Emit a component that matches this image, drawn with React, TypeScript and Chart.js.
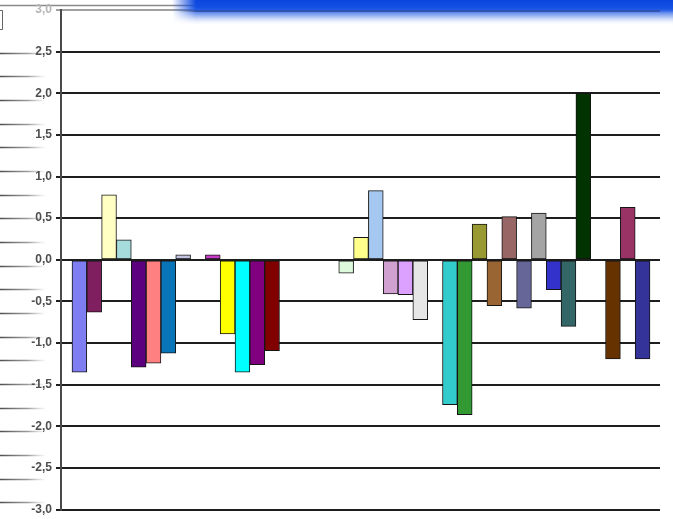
import React, { useEffect, useRef } from 'react';
import { Chart, registerables } from 'chart.js';

Chart.register(...registerables);

// one slot per bar position; null = empty slot (gap)
const values: (number | null)[] = [
  -1.35, -0.63, 0.78, 0.24, -1.29, -1.24, -1.12, 0.06, null, 0.06,
  -0.89, -1.35, -1.26, -1.09, null, null, null, null, -0.16, 0.27,
  0.83, -0.41, -0.42, -0.72, null, -1.74, -1.86, 0.43, -0.55, 0.52,
  -0.58, 0.56, -0.36, -0.80, 2.0, null, -1.19, 0.63, -1.19,
];

const barColors: string[] = [
  '#7E7EF2', '#7F1F5F', '#FFFFC4', '#A6DCDC', '#5C0080', '#FF8080', '#0A74B8', '#C4C4E2', '#FFFFFF', '#C63CC6',
  '#FFFF00', '#00FFFF', '#800080', '#800000', '#FFFFFF', '#FFFFFF', '#FFFFFF', '#FFFFFF', '#DDFADD', '#FFFF8C',
  '#A4C8F0', '#D0A0D0', '#DCA0FF', '#E6E6E6', '#FFFFFF', '#33CCCC', '#339933', '#999933', '#996633', '#996666',
  '#666699', '#A4A4A4', '#3333CC', '#336666', '#003300', '#FFFFFF', '#663300', '#993366', '#333399',
];

const yTickLabels = ['-3,0', '-2,5', '-2,0', '-1,5', '-1,0', '-0,5', '0,0', '0,5', '1,0', '1,5', '2,0', '2,5', '3,0'];

const decorPlugin = {
  id: 'decor',
  beforeDraw(chart: any) {
    const ctx = chart.ctx as CanvasRenderingContext2D;
    ctx.save();
    ctx.fillStyle = '#ffffff';
    ctx.fillRect(0, 0, chart.width, chart.height);
    // faint ruled lines on the far left
    const g = ctx.createLinearGradient(0, 0, 46, 0);
    g.addColorStop(0, 'rgba(70,70,70,0.95)');
    g.addColorStop(0.6, 'rgba(90,90,90,0.6)');
    g.addColorStop(1, 'rgba(120,120,120,0)');
    ctx.strokeStyle = g;
    ctx.lineWidth = 1.3;
    for (let k = 0; k < 20; k++) {
      const y = Math.round(52.7 + k * 23.66) + 0.5;
      ctx.beginPath();
      ctx.moveTo(0, y);
      ctx.lineTo(46, y);
      ctx.stroke();
    }
    // top frame line and small box
    ctx.strokeStyle = '#8a8a8a';
    ctx.lineWidth = 1.3;
    ctx.beginPath();
    ctx.moveTo(0, 5.5);
    ctx.lineTo(195, 5.5);
    ctx.stroke();
    ctx.strokeStyle = '#666';
    ctx.lineWidth = 1;
    ctx.beginPath();
    ctx.moveTo(0, 10.5);
    ctx.lineTo(2.5, 10.5);
    ctx.lineTo(2.5, 29.5);
    ctx.lineTo(0, 29.5);
    ctx.stroke();
    ctx.restore();
  },
  afterDraw(chart: any) {
    const ctx = chart.ctx as CanvasRenderingContext2D;
    const W = chart.width;
    const off = document.createElement('canvas');
    off.width = W;
    off.height = 30;
    const o = off.getContext('2d') as CanvasRenderingContext2D;
    const vg = o.createLinearGradient(0, 0, 0, 26);
    vg.addColorStop(0, '#0b45de');
    vg.addColorStop(0.3, '#1450e2');
    vg.addColorStop(0.4, '#2b60e6');
    vg.addColorStop(0.5, '#6d92ee');
    vg.addColorStop(0.7, '#c2d2f6');
    vg.addColorStop(1, 'rgba(255,255,255,0)');
    o.fillStyle = vg;
    o.fillRect(0, 0, W, 30);
    o.strokeStyle = '#2c4c9c';
    o.lineWidth = 1.5;
    o.beginPath();
    o.moveTo(180, 11);
    o.lineTo(660, 11);
    o.stroke();
    o.globalCompositeOperation = 'destination-in';
    const hg = o.createLinearGradient(172, 0, 196, 0);
    hg.addColorStop(0, 'rgba(0,0,0,0)');
    hg.addColorStop(1, 'rgba(0,0,0,1)');
    o.fillStyle = hg;
    o.fillRect(0, 0, W, 30);
    ctx.drawImage(off, 0, 0);
  },
};

export default function App() {
  const ref = useRef<HTMLCanvasElement | null>(null);

  useEffect(() => {
    document.body.style.margin = '0';
    if (!ref.current) return;
    const points = values.map((v, i) => ({ x: i, y: v }));
    const chart = new Chart(ref.current, {
      type: 'bar',
      data: {
        datasets: [
          {
            data: points as any,
            backgroundColor: barColors,
            borderColor: '#151515',
            borderWidth: 1,
            borderSkipped: false,
            barThickness: 'flex',
            barPercentage: 1,
            categoryPercentage: 1,
          },
        ],
      },
      options: {
        animation: false,
        responsive: false,
        devicePixelRatio: 1,
        layout: { padding: { left: 0, right: 13, top: 10, bottom: 5.5 } },
        plugins: { legend: { display: false }, tooltip: { enabled: false } },
        scales: {
          x: {
            type: 'linear',
            display: false,
            offset: false,
            bounds: 'data',
            min: -1.242,
            max: 39.175,
            grid: { offset: false },
            ticks: { stepSize: 5 },
          },
          y: {
            min: -3,
            max: 3,
            afterFit: (s: any) => {
              s.width = 61;
            },
            ticks: {
              stepSize: 0.5,
              padding: 4,
              color: (c: any) => (c.index === yTickLabels.length - 1 ? '#b5b5b5' : '#4e4e4e'),
              font: { family: '"Liberation Sans", Arial, sans-serif', size: 12, weight: 'bold', lineHeight: 0.9 },
              callback: (_v: any, i: number) => yTickLabels[i],
            },
            grid: {
              color: (c: any) => (c.index === yTickLabels.length - 1 ? '#a0a0a0' : '#1e1e1e'),
              lineWidth: 2,
              tickLength: 5,
            },
            border: { color: '#4a4a4a', width: 2 },
          },
        },
      },
      plugins: [decorPlugin],
    });
    return () => chart.destroy();
  }, []);

  return (
    <div style={{ width: 673, height: 519 }}>
      <canvas ref={ref} width={673} height={519} style={{ display: 'block' }} />
    </div>
  );
}
